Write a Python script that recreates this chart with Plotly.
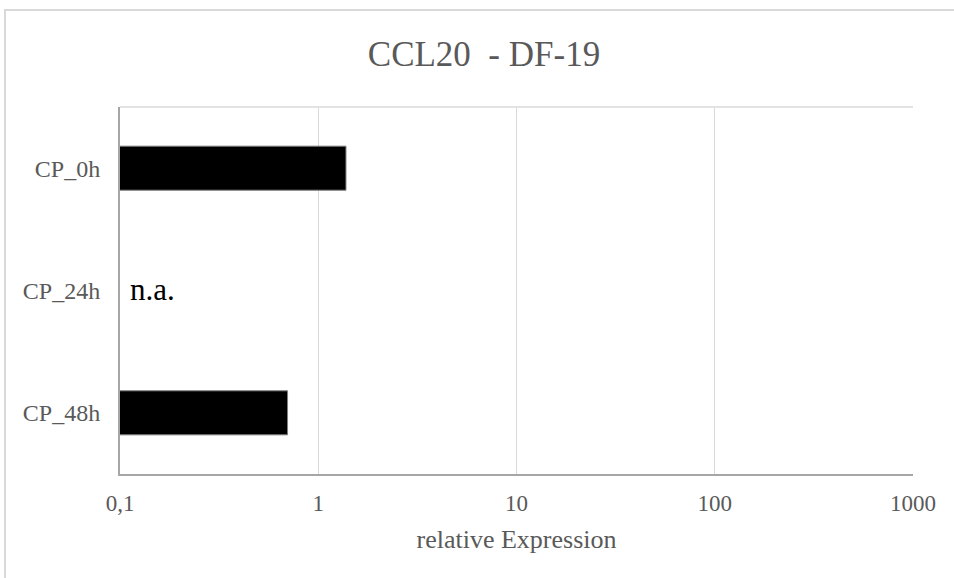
import math
import plotly.graph_objects as go

# Relative CCL20 expression in DF-19 cells
categories = ["CP_0h", "CP_24h", "CP_48h"]
expression = [1.38, None, 0.70]
missing_label = "n.a."
tick_values = [0.1, 1, 10, 100, 1000]
tick_labels = ["0,1", "1", "10", "100", "1000"]

font_family = "Liberation Serif"
grey_text = "#595959"

fig = go.Figure()
fig.add_trace(go.Bar(
    y=categories,
    x=expression,
    orientation="h",
    marker=dict(color="black", line=dict(color="#7f7f7f", width=1)),
    width=0.36,
    showlegend=False,
    hoverinfo="x+y",
))

fig.add_annotation(
    x=math.log10(tick_values[0]), y=categories[1],
    xref="x", yref="y",
    text=missing_label, showarrow=False,
    xanchor="left", yanchor="middle", xshift=8, yshift=1,
    font=dict(family=font_family, size=31, color="black"),
)

# outer chart frame
fig.add_shape(type="rect", xref="paper", yref="paper",
              x0=-0.145, x1=1.3, y0=-0.5, y1=1.264,
              line=dict(color="#d9d9d9", width=2), fillcolor="rgba(0,0,0,0)", layer="below")
# light top edge of the plotting area
fig.add_shape(type="line", xref="paper", yref="paper",
              x0=0, x1=1, y0=1, y1=1,
              line=dict(color="#e3e3e3", width=2))

fig.update_layout(
    width=954, height=578,
    margin=dict(l=120, r=41, t=107, b=104),
    paper_bgcolor="white", plot_bgcolor="white",
    font=dict(family=font_family, color=grey_text),
    title=dict(text="CCL20  - DF-19", x=0.459, xref="paper", xanchor="center",
               y=1 - 54 / 578, yanchor="middle",
               font=dict(family=font_family, size=35, color=grey_text)),
    bargap=0.64,
)

fig.update_xaxes(
    type="log", range=[-1, 3],
    tickvals=tick_values, ticktext=tick_labels,
    tickfont=dict(family=font_family, size=23, color=grey_text),
    showgrid=True, gridcolor="#d9d9d9", gridwidth=1,
    showline=True, linecolor="#a6a6a6", linewidth=2,
    ticks="outside", ticklen=7, tickcolor="rgba(0,0,0,0)",
    zeroline=False,
    title=dict(text="relative Expression", standoff=15,
               font=dict(family=font_family, size=26, color=grey_text)),
)
fig.update_yaxes(
    categoryorder="array", categoryarray=categories, autorange="reversed",
    tickfont=dict(family=font_family, size=24, color=grey_text),
    showgrid=False,
    showline=True, linecolor="#a6a6a6", linewidth=2,
    ticks="outside", ticklen=13, tickcolor="rgba(0,0,0,0)",
)

fig.write_html("out.html")
